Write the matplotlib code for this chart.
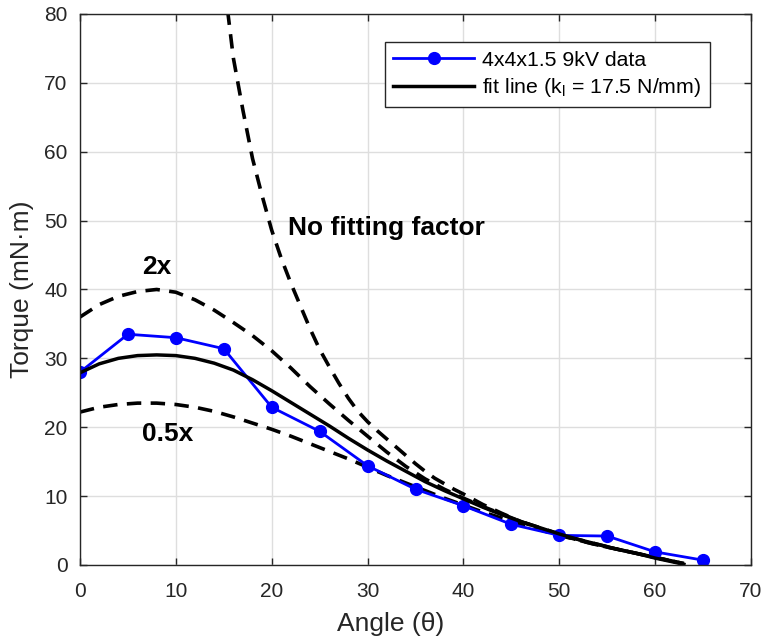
import matplotlib
matplotlib.use("Agg")
import matplotlib.pyplot as plt

# measured torque points
angle_data = [0, 5, 10, 15, 20, 25, 30, 35, 40, 45, 50, 55, 60, 65]
torque_data = [28.0, 33.5, 33.0, 31.4, 22.9, 19.4, 14.4, 11.0, 8.6, 5.9, 4.3, 4.2, 1.9, 0.7]

# model curves
angle_fit = [0, 2, 4, 6, 8, 10, 12, 14, 16, 18, 20, 22, 24, 26, 28, 30, 32, 34,
             36, 38, 40, 42, 44, 46, 48, 50, 52, 54, 56, 58, 60, 62, 63]
torque_fit = [27.9, 29.2, 30.0, 30.4, 30.5, 30.4, 30.0, 29.3, 28.3, 26.9, 25.3, 23.6,
              21.9, 20.2, 18.4, 16.7, 15.1, 13.6, 12.1, 10.8, 9.6, 8.4, 7.3, 6.3,
              5.4, 4.5, 3.7, 3.0, 2.3, 1.7, 1.0, 0.4, 0.1]
torque_2x = [36.0, 37.8, 39.0, 39.7, 40.0, 39.6, 38.5, 37.0, 35.2, 33.3, 31.1, 28.6,
             25.9, 23.4, 21.0, 18.7, 16.4, 14.3, 12.5, 11.0, 9.7, 8.5, 7.4, 6.3,
             5.4, 4.5, 3.7, 3.0, 2.3, 1.7, 1.1, 0.5, 0.2]
torque_half = [22.2, 22.9, 23.3, 23.5, 23.5, 23.3, 22.9, 22.3, 21.5, 20.6, 19.7, 18.7,
               17.6, 16.5, 15.4, 14.2, 13.0, 11.9, 10.8, 9.7, 8.7, 7.7, 6.8, 5.9,
               5.1, 4.3, 3.6, 2.9, 2.3, 1.7, 1.1, 0.5, 0.2]

angle_nofit = [15.4, 16, 17, 18, 19, 20, 21, 22, 23, 24, 25, 26, 27, 28, 29, 30,
               31, 32, 33, 34, 35, 36, 37, 38, 39, 40, 42, 44, 46, 48, 50, 52,
               54, 56, 58, 60, 62, 63]
torque_nofit = [80.5, 73.6, 66.0, 59.0, 53.6, 48.6, 44.5, 40.9, 37.6, 34.3, 31.3, 28.8,
                26.4, 24.2, 22.3, 20.8, 19.5, 18.3, 17.1, 15.9, 14.7, 13.6, 12.6, 11.8,
                11.0, 10.3, 8.8, 7.5, 6.3, 5.3, 4.4, 3.6, 2.9, 2.3, 1.7, 1.1, 0.5, 0.2]

plt.rcParams["font.family"] = ["Liberation Sans", "DejaVu Sans"]
plt.rcParams["mathtext.fontset"] = "custom"
plt.rcParams["mathtext.rm"] = "Liberation Sans"

fig = plt.figure(figsize=(7.64, 6.41), dpi=100)
ax = fig.add_axes([0.1047, 0.1186, 0.8783, 0.8596])

dash = (0, (4, 2.6))
ax.plot(angle_nofit, torque_nofit, color="black", lw=2.6, linestyle=dash)
ax.plot(angle_fit, torque_2x, color="black", lw=2.6, linestyle=dash)
ax.plot(angle_fit, torque_half, color="black", lw=2.6, linestyle=dash)
ax.plot(angle_data, torque_data, color="blue", lw=2.0, marker="o", markersize=8.5,
        label="4x4x1.5 9kV data")
ax.plot(angle_fit, torque_fit, color="black", lw=2.5,
        label=r"fit line (k$_\mathregular{l}$ = 17.5 N/mm)")

ax.text(21.7, 48.9, "No fitting factor", fontsize=19, fontweight="bold", va="center")
ax.text(6.5, 43.3, "2x", fontsize=19, fontweight="bold", va="center")
ax.text(6.5, 19.0, "0.5x", fontsize=19, fontweight="bold", va="center")

ax.set_xlim(0, 70)
ax.set_ylim(0, 80)
ax.set_xticks(range(0, 71, 10))
ax.set_yticks(range(0, 81, 10))
ax.grid(True, color="0.87", lw=1.0)
ax.set_axisbelow(True)
ax.tick_params(direction="in", top=True, right=True, labelsize=15, colors="0.15",
               length=5, width=1)
ax.tick_params(axis="x", pad=12)
ax.tick_params(axis="y", pad=9)
for s in ax.spines.values():
    s.set_color("0.15")
    s.set_linewidth(1.0)

ax.set_xlabel("Angle (θ)", fontsize=19, color="0.15")
ax.xaxis.set_label_coords(0.463, -0.086)
ax.set_ylabel("Torque (mN·m)", fontsize=19, color="0.15")
ax.yaxis.set_label_coords(-0.068, 0.5)

leg = ax.legend(loc="upper right", bbox_to_anchor=(0.939, 0.949), fontsize=15.3,
                frameon=True, fancybox=False, edgecolor="0.15", framealpha=1,
                handlelength=3.8, borderpad=0.4, labelspacing=0.3,
                handletextpad=0.4, borderaxespad=0)
leg.get_frame().set_linewidth(1.0)

fig.savefig("out.png", dpi=100)
